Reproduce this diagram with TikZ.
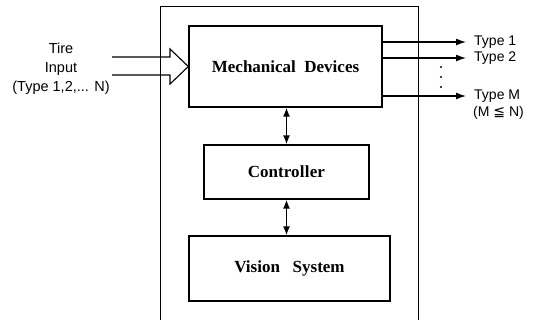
\documentclass[tikz,border=0pt]{standalone}
\usepackage{fontspec}
\setmainfont{Liberation Serif}
\newfontfamily\lab{Liberation Sans}
\newfontfamily\dv{DejaVu Sans}
\usetikzlibrary{arrows.meta}
\begin{document}
\begin{tikzpicture}[x=1pt,y=-1pt,
  block/.style={draw,line width=1.3pt,inner sep=0pt,font=\fontsize{17}{19}\selectfont\bfseries},
  frame/.style={line width=0.8pt},
  link/.style={line width=1.5pt,{Latex[length=9pt,width=7pt]}-{Latex[length=9pt,width=7pt]}},
  outarrow/.style={line width=1.2pt,-{Latex[length=10pt,width=7pt]}},
  lbl/.style={font=\lab\fontsize{14}{16}\selectfont,inner sep=0pt}]
\useasboundingbox (0,0) rectangle (536,320);
% frame
\draw[frame] (160,320) -- (160,6) -- (418,6) -- (418,320);
% blocks
\node[block,minimum width=193pt,minimum height=81pt] (mech) at (285.5,66.5) {Mechanical\ \ Devices};
\node[block,minimum width=165pt,minimum height=54pt] (ctrl) at (286.5,172) {Contro\kern0.3pt l\kern0.3pt l\kern0.3pt er};
\node[block,minimum width=201pt,minimum height=65pt] (vis) at (289.5,268.5) {Vision\ \ \ System};
% links
\draw[link] (mech.south -| ctrl.north) -- (ctrl.north);
\draw[link] (ctrl.south) -- (ctrl.south |- vis.north);
% input arrow
\coordinate (in1) at (112,57);
\coordinate (in2) at (112,75);
\draw[line width=1.1pt,line join=miter] (in1) -- (170,57) -- (170,49) -- (mech.west) -- (170,84) -- (170,75) -- (in2);
\node[lbl,align=center,font=\lab\fontsize{14.5}{19}\selectfont] (inlbl) at (61,69) {Tire\\Input\\(Type 1,2,... N)};
% outputs
\coordinate (o1) at (466,42);
\coordinate (o2) at (466,58);
\coordinate (o3) at (466,96);
\draw[outarrow] (mech.east |- o1) -- (o1);
\draw[outarrow] (mech.east |- o2) -- (o2);
\draw[outarrow] (mech.east |- o3) -- (o3);
\node[lbl,anchor=west] (t1) at (474,42) {Type 1};
\node[lbl,anchor=west] (t2) at (474,58) {Type 2};
\node[lbl,anchor=west] (tm) at (474,96) {Type M};
\node[lbl,anchor=west] (mn) at (473,113) {(M {\dv ≦} N)};
\foreach \yy in {67,77,87} \fill (441,\yy) circle (1.1pt);
\end{tikzpicture}
\end{document}
